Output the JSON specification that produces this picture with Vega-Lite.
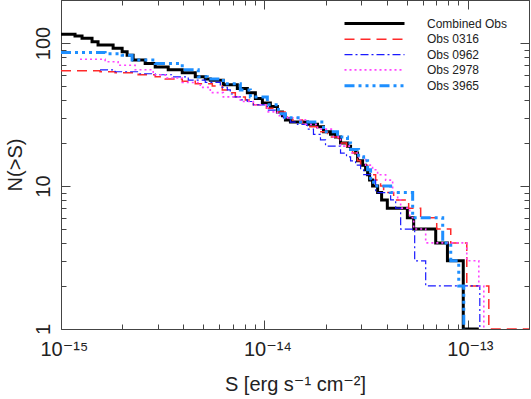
{
  "$schema": "https://vega.github.io/schema/vega-lite/v6.json",
  "width": 468,
  "height": 329,
  "autosize": {"type": "none"},
  "padding": {"left": 61, "top": 0, "right": 2, "bottom": 70},
  "background": "white",
  "config": {
    "view": {"stroke": "#444", "strokeWidth": 1},
    "font": "Liberation Sans, DejaVu Sans, sans-serif",
    "axis": {"domain": false, "grid": false, "tickColor": "#444", "tickWidth": 1, "labelColor": "#222", "titleColor": "#222", "titleFontWeight": "normal", "labelOverlap": false, "labelFlush": false}
  },
  "data": {
    "values": [
      {"g": "Combined Obs", "S": 1.000e-15, "N": 115},
      {"g": "Combined Obs", "S": 1.172e-15, "N": 112},
      {"g": "Combined Obs", "S": 1.269e-15, "N": 108},
      {"g": "Combined Obs", "S": 1.421e-15, "N": 102},
      {"g": "Combined Obs", "S": 1.521e-15, "N": 97},
      {"g": "Combined Obs", "S": 1.804e-15, "N": 92},
      {"g": "Combined Obs", "S": 1.998e-15, "N": 87},
      {"g": "Combined Obs", "S": 2.114e-15, "N": 82},
      {"g": "Combined Obs", "S": 2.263e-15, "N": 76},
      {"g": "Combined Obs", "S": 2.593e-15, "N": 72},
      {"g": "Combined Obs", "S": 2.905e-15, "N": 68},
      {"g": "Combined Obs", "S": 3.366e-15, "N": 65},
      {"g": "Combined Obs", "S": 3.946e-15, "N": 62},
      {"g": "Combined Obs", "S": 4.573e-15, "N": 58},
      {"g": "Combined Obs", "S": 5.121e-15, "N": 56},
      {"g": "Combined Obs", "S": 5.420e-15, "N": 55},
      {"g": "Combined Obs", "S": 6.281e-15, "N": 51},
      {"g": "Combined Obs", "S": 7.362e-15, "N": 48},
      {"g": "Combined Obs", "S": 8.246e-15, "N": 45},
      {"g": "Combined Obs", "S": 9.029e-15, "N": 41},
      {"g": "Combined Obs", "S": 9.776e-15, "N": 38},
      {"g": "Combined Obs", "S": 10.70e-15, "N": 36},
      {"g": "Combined Obs", "S": 11.59e-15, "N": 33},
      {"g": "Combined Obs", "S": 12.27e-15, "N": 31},
      {"g": "Combined Obs", "S": 12.69e-15, "N": 29},
      {"g": "Combined Obs", "S": 13.43e-15, "N": 28},
      {"g": "Combined Obs", "S": 16.29e-15, "N": 27},
      {"g": "Combined Obs", "S": 18.24e-15, "N": 26},
      {"g": "Combined Obs", "S": 19.53e-15, "N": 24},
      {"g": "Combined Obs", "S": 21.14e-15, "N": 23},
      {"g": "Combined Obs", "S": 22.37e-15, "N": 22},
      {"g": "Combined Obs", "S": 23.68e-15, "N": 20},
      {"g": "Combined Obs", "S": 25.63e-15, "N": 19},
      {"g": "Combined Obs", "S": 26.53e-15, "N": 18},
      {"g": "Combined Obs", "S": 28.08e-15, "N": 17},
      {"g": "Combined Obs", "S": 28.72e-15, "N": 15},
      {"g": "Combined Obs", "S": 30.40e-15, "N": 14},
      {"g": "Combined Obs", "S": 31.45e-15, "N": 13},
      {"g": "Combined Obs", "S": 32.17e-15, "N": 12},
      {"g": "Combined Obs", "S": 32.90e-15, "N": 11},
      {"g": "Combined Obs", "S": 34.04e-15, "N": 10},
      {"g": "Combined Obs", "S": 36.04e-15, "N": 9},
      {"g": "Combined Obs", "S": 37.70e-15, "N": 8},
      {"g": "Combined Obs", "S": 40.22e-15, "N": 7},
      {"g": "Combined Obs", "S": 50.46e-15, "N": 6},
      {"g": "Combined Obs", "S": 54.20e-15, "N": 5},
      {"g": "Combined Obs", "S": 69.56e-15, "N": 4},
      {"g": "Combined Obs", "S": 79.43e-15, "N": 3},
      {"g": "Combined Obs", "S": 95.02e-15, "N": 1},
      {"g": "Combined Obs", "S": 113.3e-15, "N": 1},

      {"g": "Obs 0316", "S": 1.000e-15, "N": 64},
      {"g": "Obs 0316", "S": 1.556e-15, "N": 63},
      {"g": "Obs 0316", "S": 1.845e-15, "N": 62},
      {"g": "Obs 0316", "S": 2.395e-15, "N": 60},
      {"g": "Obs 0316", "S": 2.905e-15, "N": 58},
      {"g": "Obs 0316", "S": 3.253e-15, "N": 56},
      {"g": "Obs 0316", "S": 3.946e-15, "N": 54},
      {"g": "Obs 0316", "S": 4.573e-15, "N": 52},
      {"g": "Obs 0316", "S": 5.545e-15, "N": 50},
      {"g": "Obs 0316", "S": 6.210e-15, "N": 47},
      {"g": "Obs 0316", "S": 6.647e-15, "N": 45},
      {"g": "Obs 0316", "S": 7.197e-15, "N": 42},
      {"g": "Obs 0316", "S": 8.061e-15, "N": 40},
      {"g": "Obs 0316", "S": 8.826e-15, "N": 37},
      {"g": "Obs 0316", "S": 10.23e-15, "N": 35},
      {"g": "Obs 0316", "S": 11.59e-15, "N": 33},
      {"g": "Obs 0316", "S": 12.98e-15, "N": 30},
      {"g": "Obs 0316", "S": 13.74e-15, "N": 29},
      {"g": "Obs 0316", "S": 15.39e-15, "N": 27},
      {"g": "Obs 0316", "S": 16.29e-15, "N": 26},
      {"g": "Obs 0316", "S": 18.24e-15, "N": 24},
      {"g": "Obs 0316", "S": 20.44e-15, "N": 22},
      {"g": "Obs 0316", "S": 23.15e-15, "N": 20},
      {"g": "Obs 0316", "S": 25.34e-15, "N": 18},
      {"g": "Obs 0316", "S": 27.14e-15, "N": 17},
      {"g": "Obs 0316", "S": 28.72e-15, "N": 15},
      {"g": "Obs 0316", "S": 29.72e-15, "N": 14},
      {"g": "Obs 0316", "S": 32.17e-15, "N": 13},
      {"g": "Obs 0316", "S": 33.28e-15, "N": 12},
      {"g": "Obs 0316", "S": 35.23e-15, "N": 11},
      {"g": "Obs 0316", "S": 37.28e-15, "N": 10},
      {"g": "Obs 0316", "S": 38.57e-15, "N": 9},
      {"g": "Obs 0316", "S": 43.21e-15, "N": 8},
      {"g": "Obs 0316", "S": 51.21e-15, "N": 7},
      {"g": "Obs 0316", "S": 58.67e-15, "N": 6},
      {"g": "Obs 0316", "S": 70.36e-15, "N": 5},
      {"g": "Obs 0316", "S": 82.46e-15, "N": 4},
      {"g": "Obs 0316", "S": 98.87e-15, "N": 2},
      {"g": "Obs 0316", "S": 126.9e-15, "N": 1},
      {"g": "Obs 0316", "S": 250.0e-15, "N": 1},

      {"g": "Obs 0962", "S": 1.556e-15, "N": 65},
      {"g": "Obs 0962", "S": 1.845e-15, "N": 63},
      {"g": "Obs 0962", "S": 2.395e-15, "N": 61},
      {"g": "Obs 0962", "S": 2.905e-15, "N": 60},
      {"g": "Obs 0962", "S": 3.523e-15, "N": 58},
      {"g": "Obs 0962", "S": 4.224e-15, "N": 55},
      {"g": "Obs 0962", "S": 5.121e-15, "N": 53},
      {"g": "Obs 0962", "S": 6.071e-15, "N": 49},
      {"g": "Obs 0962", "S": 6.572e-15, "N": 47},
      {"g": "Obs 0962", "S": 6.800e-15, "N": 44},
      {"g": "Obs 0962", "S": 7.035e-15, "N": 42},
      {"g": "Obs 0962", "S": 7.617e-15, "N": 40},
      {"g": "Obs 0962", "S": 8.246e-15, "N": 39},
      {"g": "Obs 0962", "S": 8.826e-15, "N": 37},
      {"g": "Obs 0962", "S": 10.34e-15, "N": 34},
      {"g": "Obs 0962", "S": 11.59e-15, "N": 32},
      {"g": "Obs 0962", "S": 12.41e-15, "N": 30},
      {"g": "Obs 0962", "S": 13.43e-15, "N": 28},
      {"g": "Obs 0962", "S": 14.54e-15, "N": 27},
      {"g": "Obs 0962", "S": 16.29e-15, "N": 25},
      {"g": "Obs 0962", "S": 17.43e-15, "N": 23},
      {"g": "Obs 0962", "S": 18.87e-15, "N": 21},
      {"g": "Obs 0962", "S": 19.98e-15, "N": 19},
      {"g": "Obs 0962", "S": 23.68e-15, "N": 17},
      {"g": "Obs 0962", "S": 25.34e-15, "N": 16},
      {"g": "Obs 0962", "S": 26.53e-15, "N": 15},
      {"g": "Obs 0962", "S": 28.08e-15, "N": 14},
      {"g": "Obs 0962", "S": 29.72e-15, "N": 13},
      {"g": "Obs 0962", "S": 30.75e-15, "N": 12},
      {"g": "Obs 0962", "S": 33.28e-15, "N": 11},
      {"g": "Obs 0962", "S": 35.23e-15, "N": 9},
      {"g": "Obs 0962", "S": 41.76e-15, "N": 8},
      {"g": "Obs 0962", "S": 44.21e-15, "N": 7},
      {"g": "Obs 0962", "S": 46.77e-15, "N": 5},
      {"g": "Obs 0962", "S": 54.82e-15, "N": 3},
      {"g": "Obs 0962", "S": 62.10e-15, "N": 2},
      {"g": "Obs 0962", "S": 114.6e-15, "N": 1},

      {"g": "Obs 2978", "S": 1.240e-15, "N": 77},
      {"g": "Obs 2978", "S": 1.648e-15, "N": 74},
      {"g": "Obs 2978", "S": 1.909e-15, "N": 70},
      {"g": "Obs 2978", "S": 2.315e-15, "N": 65},
      {"g": "Obs 2978", "S": 2.840e-15, "N": 60},
      {"g": "Obs 2978", "S": 3.253e-15, "N": 57},
      {"g": "Obs 2978", "S": 3.946e-15, "N": 53},
      {"g": "Obs 2978", "S": 4.840e-15, "N": 49},
      {"g": "Obs 2978", "S": 5.420e-15, "N": 45},
      {"g": "Obs 2978", "S": 6.281e-15, "N": 42},
      {"g": "Obs 2978", "S": 7.617e-15, "N": 39},
      {"g": "Obs 2978", "S": 8.826e-15, "N": 37},
      {"g": "Obs 2978", "S": 10.34e-15, "N": 33},
      {"g": "Obs 2978", "S": 11.59e-15, "N": 31},
      {"g": "Obs 2978", "S": 12.98e-15, "N": 30},
      {"g": "Obs 2978", "S": 14.54e-15, "N": 29},
      {"g": "Obs 2978", "S": 15.92e-15, "N": 27},
      {"g": "Obs 2978", "S": 18.24e-15, "N": 25},
      {"g": "Obs 2978", "S": 21.88e-15, "N": 22},
      {"g": "Obs 2978", "S": 23.68e-15, "N": 19},
      {"g": "Obs 2978", "S": 26.53e-15, "N": 17},
      {"g": "Obs 2978", "S": 29.05e-15, "N": 16},
      {"g": "Obs 2978", "S": 31.45e-15, "N": 14},
      {"g": "Obs 2978", "S": 34.04e-15, "N": 13},
      {"g": "Obs 2978", "S": 36.04e-15, "N": 12},
      {"g": "Obs 2978", "S": 39.46e-15, "N": 11},
      {"g": "Obs 2978", "S": 42.72e-15, "N": 9},
      {"g": "Obs 2978", "S": 45.23e-15, "N": 8},
      {"g": "Obs 2978", "S": 46.77e-15, "N": 7},
      {"g": "Obs 2978", "S": 51.80e-15, "N": 6},
      {"g": "Obs 2978", "S": 54.20e-15, "N": 5},
      {"g": "Obs 2978", "S": 62.10e-15, "N": 4},
      {"g": "Obs 2978", "S": 98.87e-15, "N": 3},
      {"g": "Obs 2978", "S": 113.3e-15, "N": 2},
      {"g": "Obs 2978", "S": 119.9e-15, "N": 1},

      {"g": "Obs 3965", "S": 1.000e-15, "N": 86},
      {"g": "Obs 3965", "S": 1.648e-15, "N": 84},
      {"g": "Obs 3965", "S": 1.998e-15, "N": 82},
      {"g": "Obs 3965", "S": 2.237e-15, "N": 76},
      {"g": "Obs 3965", "S": 2.905e-15, "N": 72},
      {"g": "Obs 3965", "S": 3.946e-15, "N": 65},
      {"g": "Obs 3965", "S": 4.731e-15, "N": 58},
      {"g": "Obs 3965", "S": 5.239e-15, "N": 56},
      {"g": "Obs 3965", "S": 6.281e-15, "N": 52},
      {"g": "Obs 3965", "S": 7.617e-15, "N": 47},
      {"g": "Obs 3965", "S": 8.531e-15, "N": 42},
      {"g": "Obs 3965", "S": 10.34e-15, "N": 37},
      {"g": "Obs 3965", "S": 11.72e-15, "N": 32},
      {"g": "Obs 3965", "S": 12.69e-15, "N": 30},
      {"g": "Obs 3965", "S": 15.04e-15, "N": 28},
      {"g": "Obs 3965", "S": 19.53e-15, "N": 24},
      {"g": "Obs 3965", "S": 22.89e-15, "N": 22},
      {"g": "Obs 3965", "S": 25.63e-15, "N": 20},
      {"g": "Obs 3965", "S": 26.53e-15, "N": 18},
      {"g": "Obs 3965", "S": 29.05e-15, "N": 16},
      {"g": "Obs 3965", "S": 30.75e-15, "N": 15},
      {"g": "Obs 3965", "S": 32.17e-15, "N": 13},
      {"g": "Obs 3965", "S": 33.28e-15, "N": 11},
      {"g": "Obs 3965", "S": 34.43e-15, "N": 10},
      {"g": "Obs 3965", "S": 41.76e-15, "N": 9},
      {"g": "Obs 3965", "S": 53.58e-15, "N": 6},
      {"g": "Obs 3965", "S": 75.30e-15, "N": 4},
      {"g": "Obs 3965", "S": 82.46e-15, "N": 3},
      {"g": "Obs 3965", "S": 90.29e-15, "N": 2},
      {"g": "Obs 3965", "S": 95.57e-15, "N": 1}
    ]
  },
  "layer": [
    {
      "mark": {"type": "line", "interpolate": "step-after", "clip": true, "strokeCap": "butt"},
      "encoding": {
        "x": {
          "field": "S", "type": "quantitative",
          "scale": {"type": "log", "domain": [1e-15, 2e-13], "nice": false},
          "axis": {
            "orient": "bottom",
            "values": [1e-15, 2e-15, 3e-15, 4e-15, 5e-15, 6e-15, 7e-15, 8e-15, 9e-15, 1e-14, 2e-14, 3e-14, 4e-14, 5e-14, 6e-14, 7e-14, 8e-14, 9e-14, 1e-13, 2e-13],
            "tickSize": {"condition": {"test": "abs(log(datum.value)/LN10 - round(log(datum.value)/LN10)) < 0.001", "value": -9}, "value": -5},
            "labelExpr": "abs(log(datum.value)/LN10 - round(log(datum.value)/LN10)) < 0.001 ? (round(log(datum.value)/LN10) == -15 ? '10⁻¹⁵' : round(log(datum.value)/LN10) == -14 ? '10⁻¹⁴' : round(log(datum.value)/LN10) == -13 ? '10⁻¹³' : '') : ''",
            "labelAlign": "left",
            "labelOffset": -21,
            "labelBaseline": "alphabetic",
            "labelPadding": 35,
            "labelFontSize": 20,
            "title": "S [erg s⁻¹ cm⁻²]",
            "titleFontSize": 20,
            "titlePadding": 11
          }
        },
        "y": {
          "field": "N", "type": "quantitative",
          "scale": {"type": "log", "domain": [1, 200], "nice": false},
          "axis": {
            "orient": "left",
            "values": [1, 2, 3, 4, 5, 6, 7, 8, 9, 10, 20, 30, 40, 50, 60, 70, 80, 90, 100, 200],
            "tickSize": {"condition": {"test": "datum.value == 1 || datum.value == 10 || datum.value == 100", "value": -9}, "value": -5},
            "labelExpr": "datum.value == 1 ? '1' : datum.value == 10 ? '10' : datum.value == 100 ? '100' : ''",
            "labelAngle": -90,
            "labelAlign": "center",
            "labelBaseline": "alphabetic",
            "labelPadding": 21,
            "labelFontSize": 20,
            "title": "N(>S)",
            "titleFontSize": 20,
            "titlePadding": 4
          }
        },
        "color": {
          "field": "g", "type": "nominal",
          "scale": {"domain": ["Combined Obs", "Obs 0316", "Obs 0962", "Obs 2978", "Obs 3965"], "range": ["#000000", "#ff2a2a", "#1a1aff", "#ff44ff", "#1e8fff"]},
          "legend": {
            "title": null, "orient": "none", "legendX": 306, "legendY": 16,
            "symbolType": "M-5,0H5", "symbolSize": 144, "labelOffset": 45,
            "rowPadding": 2.3, "labelFontSize": 12, "labelColor": "#222", "padding": 0
          }
        },
        "strokeDash": {
          "field": "g", "type": "nominal",
          "scale": {"domain": ["Combined Obs", "Obs 0316", "Obs 0962", "Obs 2978", "Obs 3965"], "range": [[1, 0], [10, 6], [8, 3, 2, 3], [2, 3], [10, 4, 3, 4, 3, 4, 3, 4]]},
          "legend": {
            "title": null, "orient": "none", "legendX": 306, "legendY": 16,
            "symbolType": "M-5,0H5", "symbolSize": 144, "labelOffset": 45,
            "rowPadding": 2.3, "labelFontSize": 12, "labelColor": "#222", "padding": 0
          }
        },
        "strokeWidth": {
          "field": "g", "type": "nominal",
          "scale": {"type": "ordinal", "domain": ["Combined Obs", "Obs 0316", "Obs 0962", "Obs 2978", "Obs 3965"], "range": [3, 1.5, 1.2, 1.6, 3]},
          "legend": {
            "title": null, "orient": "none", "legendX": 306, "legendY": 16,
            "symbolType": "M-5,0H5", "symbolSize": 144, "labelOffset": 45,
            "rowPadding": 2.3, "labelFontSize": 12, "labelColor": "#222", "padding": 0
          }
        }
      }
    },
    {
      "mark": {"type": "line", "opacity": 0},
      "encoding": {
        "detail": {"field": "g"},
        "x": {
          "field": "S", "type": "quantitative",
          "axis": {
            "orient": "top",
            "values": [1e-15, 2e-15, 3e-15, 4e-15, 5e-15, 6e-15, 7e-15, 8e-15, 9e-15, 1e-14, 2e-14, 3e-14, 4e-14, 5e-14, 6e-14, 7e-14, 8e-14, 9e-14, 1e-13, 2e-13],
            "tickSize": {"condition": {"test": "abs(log(datum.value)/LN10 - round(log(datum.value)/LN10)) < 0.001", "value": -9}, "value": -5},
            "labels": false, "title": null
          }
        },
        "y": {
          "field": "N", "type": "quantitative",
          "axis": {
            "orient": "right",
            "values": [1, 2, 3, 4, 5, 6, 7, 8, 9, 10, 20, 30, 40, 50, 60, 70, 80, 90, 100, 200],
            "tickSize": {"condition": {"test": "datum.value == 1 || datum.value == 10 || datum.value == 100", "value": -9}, "value": -5},
            "labels": false, "title": null
          }
        }
      }
    }
  ],
  "resolve": {"axis": {"x": "independent", "y": "independent"}}
}
